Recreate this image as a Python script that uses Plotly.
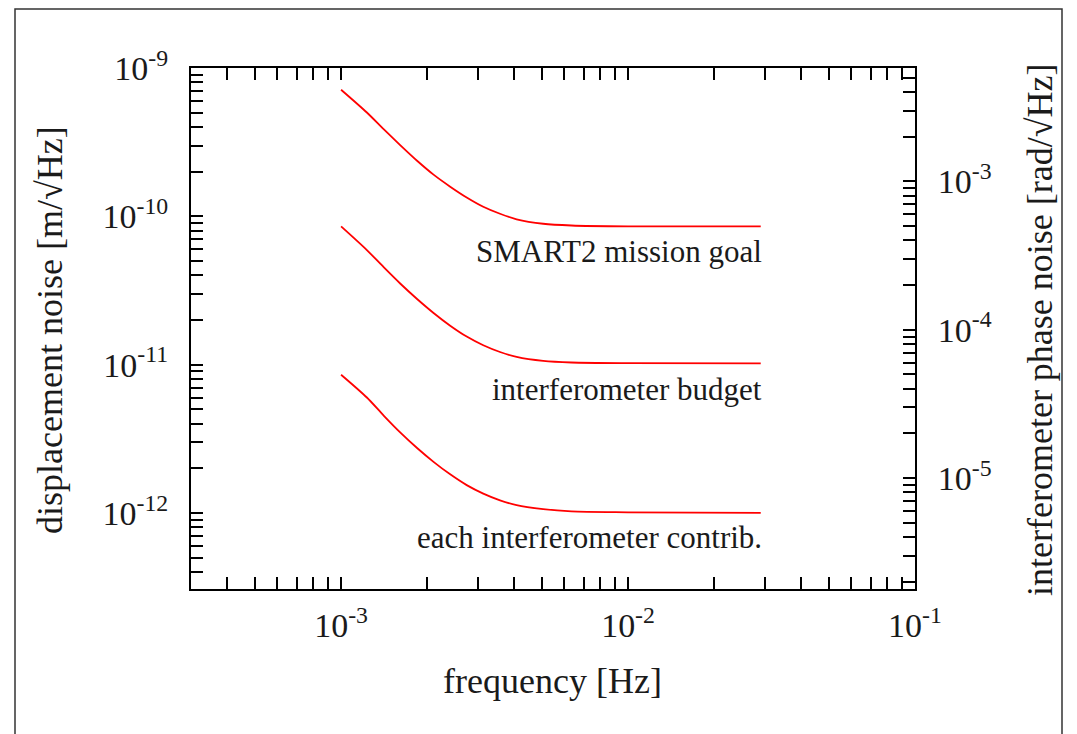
import plotly.graph_objects as go

# ---- data ----
freq = [1.0e-3, 1.23e-3, 1.41e-3, 1.61e-3, 1.84e-3, 2.10e-3, 2.40e-3, 2.74e-3,
        3.13e-3, 3.58e-3, 4.09e-3, 5.06e-3, 6.35e-3, 1.0e-2, 2.9e-2]
goal = [7.14e-10, 5.01e-10, 3.85e-10, 3.01e-10, 2.37e-10, 1.91e-10, 1.585e-10, 1.34e-10,
        1.16e-10, 1.04e-10, 9.55e-11, 8.91e-11, 8.67e-11, 8.55e-11, 8.55e-11]
budget = [8.55e-11, 5.92e-11, 4.52e-11, 3.51e-11, 2.77e-11, 2.23e-11, 1.83e-11, 1.545e-11,
          1.35e-11, 1.216e-11, 1.127e-11, 1.059e-11, 1.033e-11, 1.023e-11, 1.02e-11]
contrib = [8.55e-12, 6.0e-12, 4.52e-12, 3.48e-12, 2.74e-12, 2.21e-12, 1.82e-12, 1.54e-12,
           1.35e-12, 1.216e-12, 1.127e-12, 1.06e-12, 1.023e-12, 1.01e-12, 1.0e-12]
series_labels = ["SMART2 mission goal", "interferometer budget", "each interferometer contrib."]

x_range_log = [-3.523, -1.0]
y_range_log = [-12.513, -9.0]
phase_offset_log = 6.765  # log10 of displacement -> phase conversion
y2_range_log = [y_range_log[0] + phase_offset_log, y_range_log[1] + phase_offset_log]

x_decades = [-4, -3, -2, -1]
y_decades = [-13, -12, -11, -10, -9]
y2_decades = [-6, -5, -4, -3, -2]

def log_ticks(decades):
    vals, texts = [], []
    for d in decades:
        for m in range(1, 10):
            vals.append(m * 10.0 ** d)
            texts.append(f"10<sup>{d}</sup>" if m == 1 else "")
    return vals, texts

xt_v, xt_t = log_ticks(x_decades)
yt_v, yt_t = log_ticks(y_decades)
y2t_v, y2t_t = log_ticks(y2_decades)

FONT = "Liberation Serif"
TXT = "#1a1a1a"
RED = "#ff0000"

# page body has an 8px margin: figure is shifted accordingly
OFF = 8
PL, PR, PT, PB = 191, 915, 68, 589  # plot area in page pixels

fig = go.Figure()
for ys in (goal, budget, contrib):
    fig.add_trace(go.Scatter(x=freq, y=ys, mode="lines",
                             line=dict(color=RED, width=1.8, shape="spline", smoothing=0.8),
                             showlegend=False, hoverinfo="skip"))
fig.add_trace(go.Scatter(x=[None], y=[None], yaxis="y2", mode="lines", showlegend=False, hoverinfo="skip"))

axis_common = dict(type="log", showgrid=False, zeroline=False, showline=True, linecolor="black", linewidth=2,
                   ticks="inside", ticklen=12, tickwidth=1.5, tickcolor="black",
                   tickfont=dict(family=FONT, size=34, color=TXT), tickmode="array")

W, H = 1077 - OFF, 734 - OFF
fig.update_layout(
    width=W, height=H,
    margin=dict(l=PL - OFF, r=W - (PR - OFF), t=PT - OFF, b=H - (PB - OFF)),
    paper_bgcolor="white", plot_bgcolor="white",
    xaxis=dict(range=x_range_log, tickvals=xt_v, ticktext=xt_t, mirror="ticks", ticklabelstandoff=5, **axis_common),
    yaxis=dict(range=y_range_log, tickvals=yt_v, ticktext=yt_t, mirror=False, ticklabelstandoff=14, **axis_common),
    yaxis2=dict(range=y2_range_log, tickvals=y2t_v, ticktext=y2t_t, overlaying="y", side="right",
                ticklabelstandoff=14, **axis_common),
)

def px_x(px):
    return (px - PL) / float(PR - PL)

def px_y(py):
    return (PB - py) / float(PB - PT)

annos = [
    dict(text=series_labels[0], x=px_x(764), y=px_y(251)),
    dict(text=series_labels[1], x=px_x(764), y=px_y(389)),
    dict(text=series_labels[2], x=px_x(764), y=px_y(537)),
]
for a in annos:
    fig.add_annotation(xref="paper", yref="paper", xanchor="right", yanchor="middle", showarrow=False,
                       font=dict(family=FONT, size=31, color=TXT), **a)

fig.add_annotation(text="frequency [Hz]", xref="paper", yref="paper", x=px_x(552), y=px_y(681),
                   xanchor="center", yanchor="middle", showarrow=False, font=dict(family=FONT, size=36, color=TXT))
fig.add_annotation(text="displacement noise [m/√Hz]", xref="paper", yref="paper", x=px_x(50), y=px_y(330),
                   xanchor="center", yanchor="middle", textangle=-90, showarrow=False,
                   font=dict(family=FONT, size=36, color=TXT))
fig.add_annotation(text="interferometer phase noise [rad/√Hz]", xref="paper", yref="paper", x=px_x(1040), y=px_y(330),
                   xanchor="center", yanchor="middle", textangle=-90, showarrow=False,
                   font=dict(family=FONT, size=36, color=TXT))

# outer frame
fig.add_shape(type="rect", xref="paper", yref="paper", x0=px_x(15), x1=px_x(1062), y0=px_y(760), y1=px_y(9),
              line=dict(color="#333333", width=1.5), layer="below")

fig.write_html("out.html", post_script="document.body.style.overflow='hidden';")
